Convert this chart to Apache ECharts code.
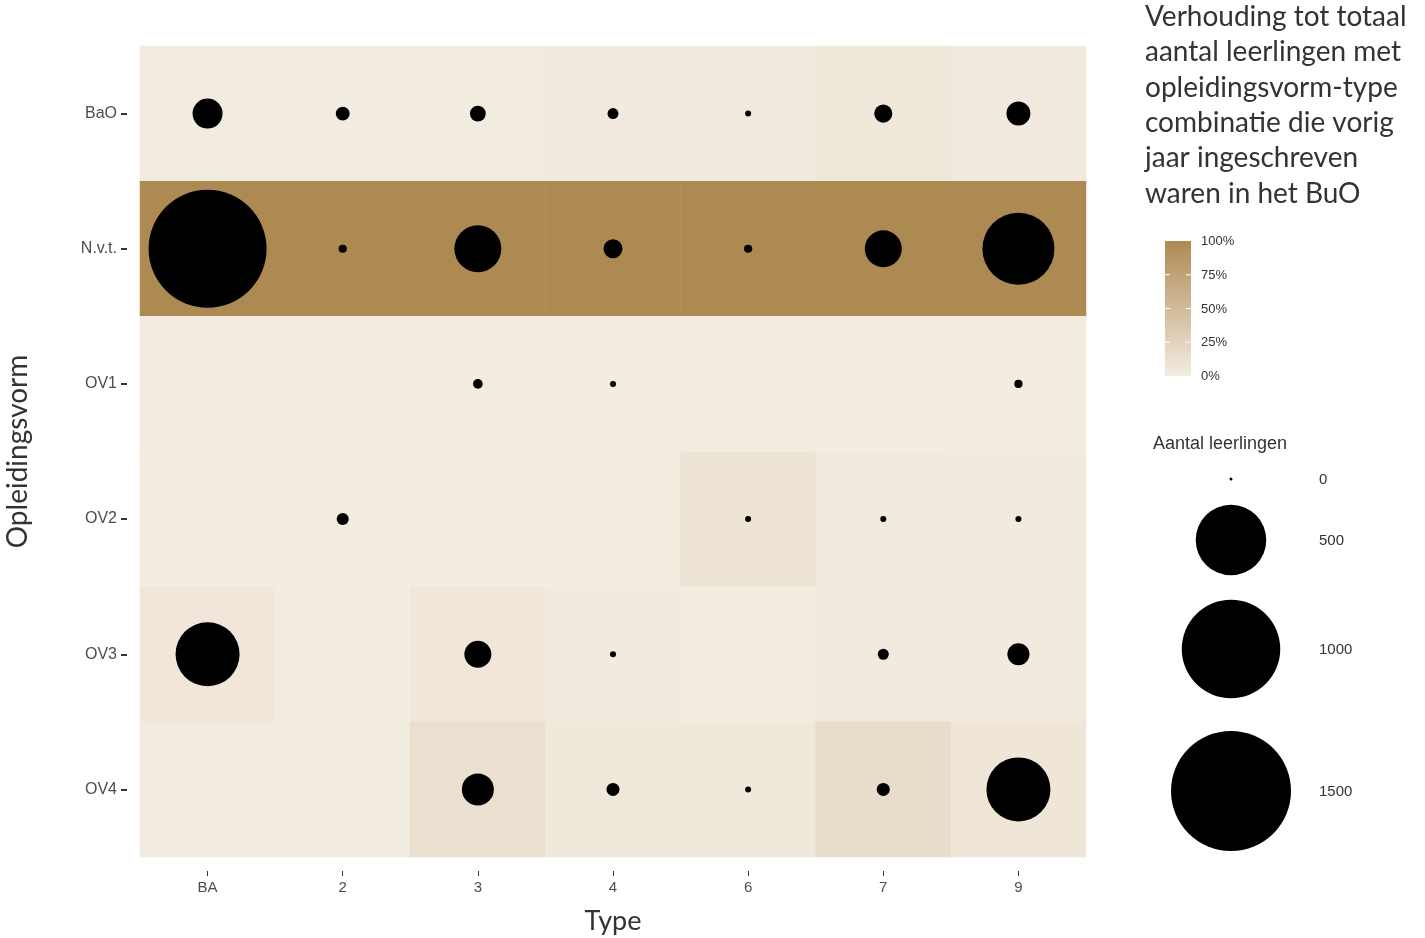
<!DOCTYPE html>
<html>
<head>
<meta charset="utf-8">
<script src="https://cdn.jsdelivr.net/npm/echarts@6/dist/echarts.min.js"></script>
<style>
html,body{margin:0;padding:0;background:#fff;}
#chart{width:1425px;height:938px;}
</style>
</head>
<body>
<div id="chart"></div>
<script>
// Categories
const typeCats = ['BA', '2', '3', '4', '6', '7', '9'];
const vormCats = ['BaO', 'N.v.t.', 'OV1', 'OV2', 'OV3', 'OV4'];

// Share (fill) per row, in order of typeCats
const shareBaO  = [0.01, 0.01, 0.01, 0.02, 0.02, 0.04, 0.03];
const shareNvt  = [1.00, 1.00, 1.00, 1.00, 1.00, 1.00, 1.00];
const shareOV1  = [0.01, 0.01, 0.00, 0.00, 0.00, 0.00, 0.01];
const shareOV2  = [0.00, 0.00, 0.00, 0.00, 0.09, 0.02, 0.02];
const shareOV3  = [0.05, 0.00, 0.05, 0.02, 0.00, 0.03, 0.02];
const shareOV4  = [0.01, 0.01, 0.12, 0.04, 0.04, 0.16, 0.06];

// Number of pupils per row (null = no bubble)
const countBaO = [80, 13, 18, 7, 1, 25, 48];
const countNvt = [1450, 3, 212, 28, 3, 127, 522];
const countOV1 = [null, null, 5, 1, null, null, 3];
const countOV2 = [null, 9, null, null, 1, 1, 1];
const countOV3 = [408, null, 63, 1, null, 7, 40];
const countOV4 = [null, null, 92, 11, 1, 11, 408];

// Legend values
const shareTicks = ['0%', '25%', '50%', '75%', '100%'];
const sizeLegend = [0, 500, 1000, 1500];

const shareRows = [shareBaO, shareNvt, shareOV1, shareOV2, shareOV3, shareOV4];
const countRows = [countBaO, countNvt, countOV1, countOV2, countOV3, countOV4];

const heatData = [];
const bubbleData = [];
shareRows.forEach((row, yi) => row.forEach((v, xi) => heatData.push([xi, yi, v])));
countRows.forEach((row, yi) => row.forEach((v, xi) => { if (v !== null) bubbleData.push([xi, yi, v]); }));

// diameter mapping (area scale)
const dMin = 3, dMax = 120, vMax = 1500;
function diam(v) { return dMin + (dMax - dMin) * Math.sqrt(v / vMax); }

const lowColor = '#f3ece1', highColor = '#ae8a53';
const txt = '#333333';
const titleFont = 'Lato';

const graphics = [];
// legend title
const titleLines = ['Verhouding tot totaal', 'aantal leerlingen met', 'opleidingsvorm-type', 'combinatie die vorig', 'jaar ingeschreven', 'waren in het BuO'];
titleLines.forEach((t, i) => graphics.push({
  type: 'text', left: 1145, top: 3 + i * 35.3,
  style: { text: t, font: '400 28px ' + titleFont, fill: txt }
}));
// color bar
const barX = 1165, barTop = 241, barH = 135, barW = 26;
graphics.push({
  type: 'rect', shape: { x: barX, y: barTop, width: barW, height: barH },
  style: { fill: new echarts.graphic.LinearGradient(0, 1, 0, 0, [{ offset: 0, color: lowColor }, { offset: 1, color: highColor }]) }
});
shareTicks.forEach((t, i) => {
  const y = barTop + barH - i * barH / 4;
  if (i > 0 && i < 4) {
    graphics.push({ type: 'line', shape: { x1: barX, y1: y, x2: barX + 5, y2: y }, style: { stroke: '#fff', lineWidth: 1 } });
    graphics.push({ type: 'line', shape: { x1: barX + barW - 5, y1: y, x2: barX + barW, y2: y }, style: { stroke: '#fff', lineWidth: 1 } });
  }
  graphics.push({ type: 'text', left: 1201, top: y - 6, style: { text: t, font: '13px "Liberation Sans"', fill: txt } });
});
// size legend
graphics.push({ type: 'text', left: 1153, top: 435, style: { text: 'Aantal leerlingen', font: '18px "Liberation Sans"', fill: txt } });
const sizeY = [479, 540, 649, 791];
sizeLegend.forEach((v, i) => {
  graphics.push({ type: 'circle', shape: { cx: 1231, cy: sizeY[i], r: diam(v) / 2 }, style: { fill: '#000' } });
  graphics.push({ type: 'text', left: 1319, top: sizeY[i] - 7, style: { text: String(v), font: '15px "Liberation Sans"', fill: txt } });
});

const chart = echarts.init(document.getElementById('chart'), null, { renderer: 'canvas' });
chart.setOption({
  backgroundColor: '#ffffff',
  animation: false,
  grid: { left: 140, right: 339, top: 46, bottom: 81, containLabel: false, outerBoundsMode: 'none' },
  xAxis: {
    type: 'category', data: typeCats, offset: 14,
    name: 'Type', nameLocation: 'middle', nameGap: 37,
    nameTextStyle: { fontFamily: titleFont, fontSize: 27, color: txt },
    axisLine: { show: false },
    axisTick: { show: true, alignWithLabel: true, length: 5, lineStyle: { color: '#333', width: 1 } },
    axisLabel: { fontFamily: 'Liberation Sans', fontSize: 15, color: '#4d4d4d', margin: 9 },
    splitLine: { show: false }
  },
  yAxis: {
    type: 'category', data: vormCats, inverse: true, offset: 13,
    name: 'Opleidingsvorm', nameLocation: 'middle', nameGap: 95, nameRotate: 90,
    nameTextStyle: { fontFamily: titleFont, fontSize: 28, color: txt },
    axisLine: { show: false },
    axisTick: { show: true, alignWithLabel: true, length: 6, lineStyle: { color: '#333', width: 2 } },
    axisLabel: { fontFamily: 'Liberation Sans', fontSize: 16, color: '#4d4d4d', margin: 10 },
    splitLine: { show: false }
  },
  visualMap: {
    show: false, type: 'continuous', min: 0, max: 1, dimension: 2, seriesIndex: 0,
    inRange: { color: [lowColor, highColor] }
  },
  series: [
    { type: 'heatmap', data: heatData, itemStyle: { borderWidth: 0 }, emphasis: { disabled: true } },
    {
      type: 'scatter', data: bubbleData, symbol: 'circle',
      symbolSize: d => diam(d[2]),
      itemStyle: { color: '#000', opacity: 1 }, z: 5
    }
  ],
  graphic: graphics
});
</script>
</body>
</html>
